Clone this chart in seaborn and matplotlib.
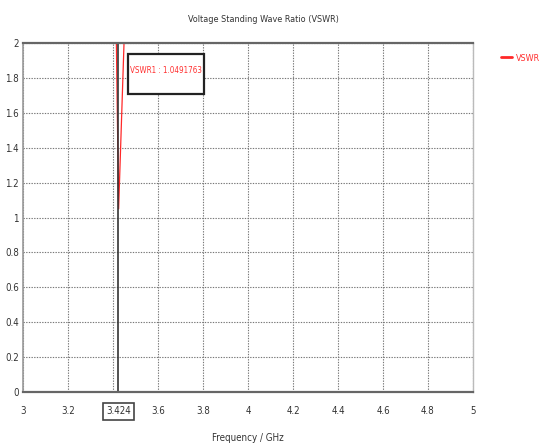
import matplotlib
matplotlib.use("Agg")
import matplotlib.pyplot as plt
from matplotlib.patches import Rectangle
import seaborn as sns
import pandas as pd

# Data
freq_ghz = [3.0, 3.3, 3.415, 3.425, 3.449, 3.6, 5.0]
vswr = [8.0, 5.0, 2.0, 1.0491763, 2.0, 5.0, 9.0]
marker_freq = 3.424
marker_value = 1.0491763
xticks = [3, 3.2, 3.4, 3.6, 3.8, 4, 4.2, 4.4, 4.6, 4.8, 5]
xtick_labels = ["3", "3.2", "", "3.6", "3.8", "4", "4.2", "4.4", "4.6", "4.8", "5"]
yticks = [0, 0.2, 0.4, 0.6, 0.8, 1, 1.2, 1.4, 1.6, 1.8, 2]
ytick_labels = ["0", "0.2", "0.4", "0.6", "0.8", "1", "1.2", "1.4", "1.6", "1.8", "2"]

sns.set_style("white")
plt.rcParams["font.family"] = ["DejaVu Sans"]
plt.rcParams["font.stretch"] = "condensed"

df = pd.DataFrame({"Frequency / GHz": freq_ghz, "VSWR": vswr})

fig = plt.figure(figsize=(5.48, 4.48), dpi=100)
ax = fig.add_axes([0.042, 0.125, 0.821, 0.779])

sns.lineplot(data=df, x="Frequency / GHz", y="VSWR", ax=ax, color="#ff2828",
             linewidth=0.9, label="VSWR", legend=False)

ax.set_xlim(3, 5)
ax.set_ylim(0, 2)
ax.set_xticks(xticks)
ax.set_xticklabels(xtick_labels)
ax.set_yticks(yticks)
ax.set_yticklabels(ytick_labels)
ax.tick_params(axis="y", labelsize=7, colors="#333333", length=0, pad=3)
ax.tick_params(axis="x", labelsize=7, colors="#333333", length=0, pad=10)
ax.grid(True, linestyle=(0, (1.2, 1.2)), color="#777777", linewidth=0.8)

for side in ["top", "bottom"]:
    ax.spines[side].set_color("#666666")
    ax.spines[side].set_linewidth(1.6)
ax.spines["left"].set_color("#999999")
ax.spines["left"].set_linewidth(1.2)
ax.spines["right"].set_color("#bbbbbb")
ax.spines["right"].set_linewidth(1.0)

# marker line
ax.axvline(marker_freq, color="#333333", linewidth=1.2)

# marker annotation box
ax.add_patch(Rectangle((3.467, 1.708), 0.337, 0.229, facecolor="white",
                       edgecolor="#222222", linewidth=1.6, zorder=5))
ax.text(3.477, 1.845, "VSWR1 : " + f"{marker_value:.7f}", color="#ff3030", fontsize=5.8,
        va="center", ha="left", zorder=6)

# marker x label in a box
ax.text(marker_freq, -0.11, "3.424", color="#333333", fontsize=7, ha="center", va="center",
        transform=ax.transData, clip_on=False,
        bbox=dict(boxstyle="square,pad=0.35", facecolor="white", edgecolor="#444444", linewidth=1.2))

ax.set_xlabel("Frequency / GHz", fontsize=7, color="#333333", labelpad=12)
ax.set_ylabel("")
fig.text(0.48, 0.957, "Voltage Standing Wave Ratio (VSWR)", fontsize=6.5, color="#333333",
         ha="center", va="center")

# legend
leg = ax.legend(loc="center left", bbox_to_anchor=(1.045, 0.957), frameon=False,
                fontsize=6.5, handlelength=1.2, handletextpad=0.4)
for t in leg.get_texts():
    t.set_color("#ff3030")
for l in leg.get_lines():
    l.set_linewidth(2)

fig.savefig("out.png", dpi=100, facecolor="white")
